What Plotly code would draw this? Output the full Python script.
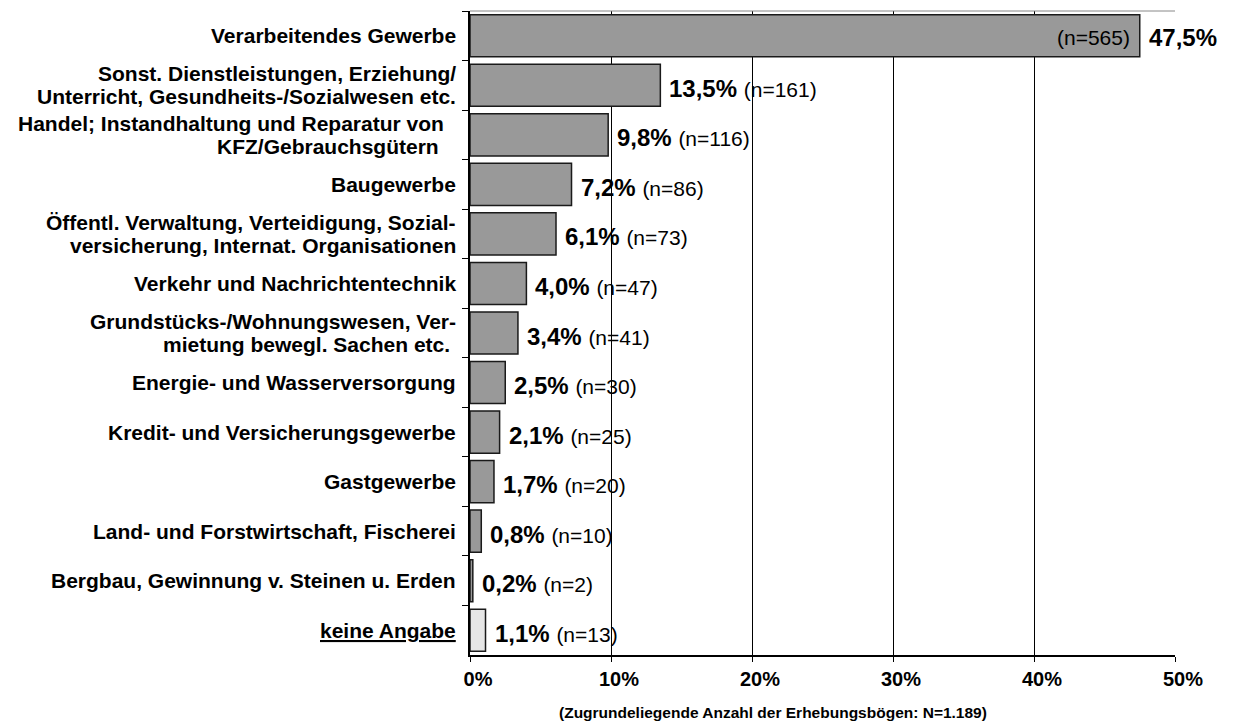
import plotly.graph_objects as go

categories = [
    "Verarbeitendes Gewerbe",
    "Sonst. Dienstleistungen, Erziehung/<br>Unterricht, Gesundheits-/Sozialwesen etc.",
    "Handel; Instandhaltung und Reparatur von\u00a0\u00a0<br>KFZ/Gebrauchsgütern\u00a0\u00a0\u00a0",
    "Baugewerbe",
    "Öffentl. Verwaltung, Verteidigung, Sozial-<br>versicherung, Internat. Organisationen",
    "Verkehr und Nachrichtentechnik",
    "Grundstücks-/Wohnungswesen, Ver-<br>mietung bewegl. Sachen etc.\u00a0",
    "Energie- und Wasserversorgung",
    "Kredit- und Versicherungsgewerbe",
    "Gastgewerbe",
    "Land- und Forstwirtschaft, Fischerei",
    "Bergbau, Gewinnung v. Steinen u. Erden",
    "<u>keine Angabe</u>",
]
percents = [47.5, 13.5, 9.8, 7.2, 6.1, 4.0, 3.4, 2.5, 2.1, 1.7, 0.8, 0.2, 1.1]
counts = [565, 161, 116, 86, 73, 47, 41, 30, 25, 20, 10, 2, 13]
x_ticks = [0, 10, 20, 30, 40, 50]
footnote = "(Zugrundeliegende Anzahl der Erhebungsbögen: N=1.189)"

FONT = "Liberation Sans, Arial, sans-serif"

colors = ["#e6e6e6" if "keine Angabe" in c else "#999999" for c in categories]

fig = go.Figure()
fig.add_bar(
    y=categories, x=percents, orientation="h",
    marker=dict(color=colors, line=dict(color="#1a1a1a", width=1.5)),
    hoverinfo="skip",
)

annotations = []
# category labels (multi-line, tight line spacing)
LINE = 23
for cat in categories:
    lines = cat.split("<br>")
    n = len(lines)
    for i, ln in enumerate(lines):
        annotations.append(dict(
            x=0, xref="paper", y=cat, yref="y", text="<b>%s</b>" % ln,
            xanchor="right", yanchor="middle", xshift=-12,
            yshift=(n - 1) / 2 * LINE - i * LINE,
            showarrow=False, font=dict(family=FONT, size=21, color="black"),
        ))

# value labels
for cat, p, c in zip(categories, percents, counts):
    pct = ("%.1f%%" % p).replace(".", ",")
    ntxt = "(n=%d)" % c
    if p > 40:
        annotations.append(dict(
            x=p, xref="x", y=cat, yref="y", text=ntxt, xanchor="right",
            yanchor="middle", xshift=-8, yshift=-2, showarrow=False,
            font=dict(family=FONT, size=21, color="black")))
        annotations.append(dict(
            x=p, xref="x", y=cat, yref="y", text="<b>%s</b>" % pct, xanchor="left",
            yanchor="middle", xshift=7, yshift=-2, showarrow=False,
            font=dict(family=FONT, size=24, color="black")))
    else:
        annotations.append(dict(
            x=p, xref="x", y=cat, yref="y",
            text="<b>%s</b> <span style='font-size:21px;font-weight:normal'>%s</span>" % (pct, ntxt),
            xanchor="left", yanchor="middle", xshift=7, yshift=-3, showarrow=False,
            font=dict(family=FONT, size=24, color="black")))

annotations.append(dict(
    x=0.43, xref="paper", y=-0.0, yref="paper", yshift=-57, text="<b>%s</b>" % footnote,
    xanchor="center", yanchor="middle", showarrow=False,
    font=dict(family=FONT, size=15.5, color="black")))

fig.update_layout(
    width=1233, height=726,
    margin=dict(l=470, r=58, t=11, b=71),
    paper_bgcolor="white", plot_bgcolor="white",
    showlegend=False, bargap=0.15,
    annotations=annotations,
    shapes=[dict(type="line", xref="paper", yref="paper", x0=0, x1=1, y0=1, y1=1,
                 line=dict(color="#888888", width=1))],
)
fig.update_xaxes(
    range=[0, 50], tickvals=x_ticks, ticktext=["<b>%d%%</b>" % t for t in x_ticks],
    showgrid=True, gridcolor="black", gridwidth=1, zeroline=False,
    showline=True, linecolor="black", linewidth=1.5,
    ticks="outside", ticklen=5, tickcolor="black",
    tickfont=dict(family=FONT, size=20, color="black"),
    ticklabelshift=8, fixedrange=True,
)
fig.update_yaxes(
    type="category", autorange="reversed", showticklabels=False,
    showgrid=False, zeroline=False,
    showline=True, linecolor="black", linewidth=1.5,
    ticks="outside", ticklen=6, tickcolor="black", tickson="boundaries",
    fixedrange=True,
)

fig.write_html("out.html", config={"displayModeBar": False},
               post_script="document.body.style.margin='0';document.body.style.overflow='hidden';")
